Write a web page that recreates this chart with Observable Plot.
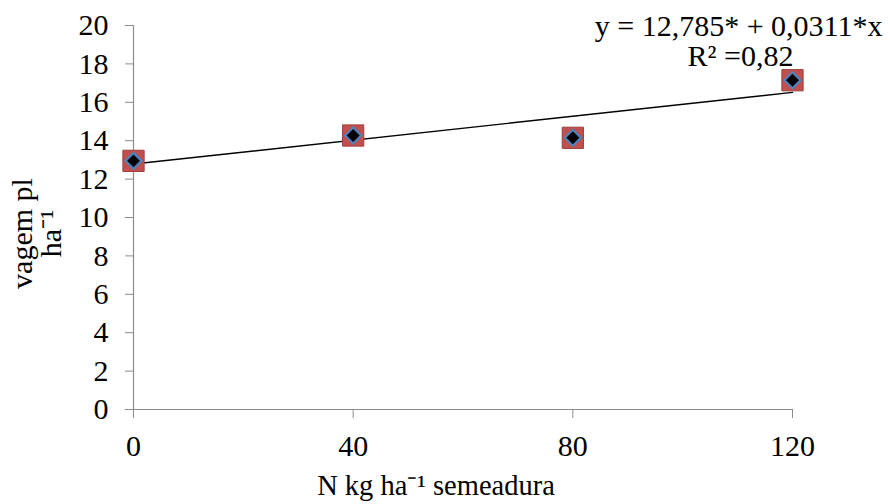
<!DOCTYPE html>
<html>
<head>
<meta charset="utf-8">
<script src="https://cdn.jsdelivr.net/npm/d3@7"></script>
<script src="https://cdn.jsdelivr.net/npm/@observablehq/plot@0.6"></script>
<style>
  html, body { margin: 0; padding: 0; background: #ffffff; }
  #chart svg, #chart svg text { font-family: "Liberation Serif", "Times New Roman", serif !important; }
</style>
</head>
<body>
<div id="chart"></div>
<script>
// Data
const doses = [0, 40, 80, 120];            // N kg ha-1 semeadura
const vagens = [12.95, 14.27, 14.15, 17.15]; // vagem pl ha-1
const trendX = [0, 120];
const trendY = [12.785, 16.517];
const xTicks = [0, 40, 80, 120];
const yTicks = [0, 2, 4, 6, 8, 10, 12, 14, 16, 18, 20];
const equationText = "y = 12,785* + 0,0311*x";
const r2Text = "R² =0,82";
const xLabel = "N kg ha⁻¹ semeadura";
const yLabel = "vagem pl\nha⁻¹";

const points = doses.map((d, i) => ({x: d, y: vagens[i]}));
const trend = trendX.map((d, i) => ({x: d, y: trendY[i]}));

const axisGray = "#8c8c8c";
const font = "Liberation Serif";

const chart = Plot.plot({
  width: 890,
  height: 504,
  marginLeft: 133,
  marginRight: 98,
  marginTop: 25,
  marginBottom: 95,
  x: {domain: [0, 120]},
  y: {domain: [0, 20]},
  style: {fontFamily: font, fontSize: "30px", background: "#ffffff", color: "#000"},
  marks: [
    Plot.axisY({ticks: yTicks, tickSize: 8, tickPadding: 17, stroke: axisGray, fill: "#000", label: null, fontSize: 30}),
    Plot.axisX({ticks: xTicks, tickSize: 9, tickPadding: 16, stroke: axisGray, fill: "#000", label: null, fontSize: 30}),
    Plot.ruleX([0], {y1: 0, y2: 20, stroke: axisGray, strokeWidth: 1.2}),
    Plot.ruleY([0], {x1: 0, x2: 120, stroke: axisGray, strokeWidth: 1.2}),
    Plot.line(trend, {x: "x", y: "y", stroke: "#000", strokeWidth: 1.4}),
    Plot.dot(points, {x: "x", y: "y", symbol: "square", r: 12, fill: "#c0504d", stroke: "#a2403d", strokeWidth: 1}),
    Plot.dot(points, {x: "x", y: "y", symbol: "diamond2", r: 7.2, fill: "#000", stroke: "#4f81bd", strokeWidth: 2.2}),
    Plot.text([equationText], {frameAnchor: "top-right", textAnchor: "end", lineAnchor: "middle", dx: 90, dy: 1, fontSize: 30, fill: "#000"}),
    Plot.text([r2Text], {frameAnchor: "top-right", textAnchor: "middle", lineAnchor: "middle", dx: -52, dy: 31, fontSize: 30, fill: "#000"}),
    Plot.text([xLabel], {frameAnchor: "bottom", textAnchor: "middle", lineAnchor: "middle", dx: -27, dy: 76, fontSize: 28.5, fill: "#000"}),
    Plot.text([yLabel], {frameAnchor: "left", textAnchor: "middle", lineAnchor: "middle", rotate: -90, dx: -96, dy: 16, fontSize: 30, lineHeight: 0.95, fill: "#000"})
  ]
});
document.getElementById("chart").appendChild(chart);
</script>
</body>
</html>
